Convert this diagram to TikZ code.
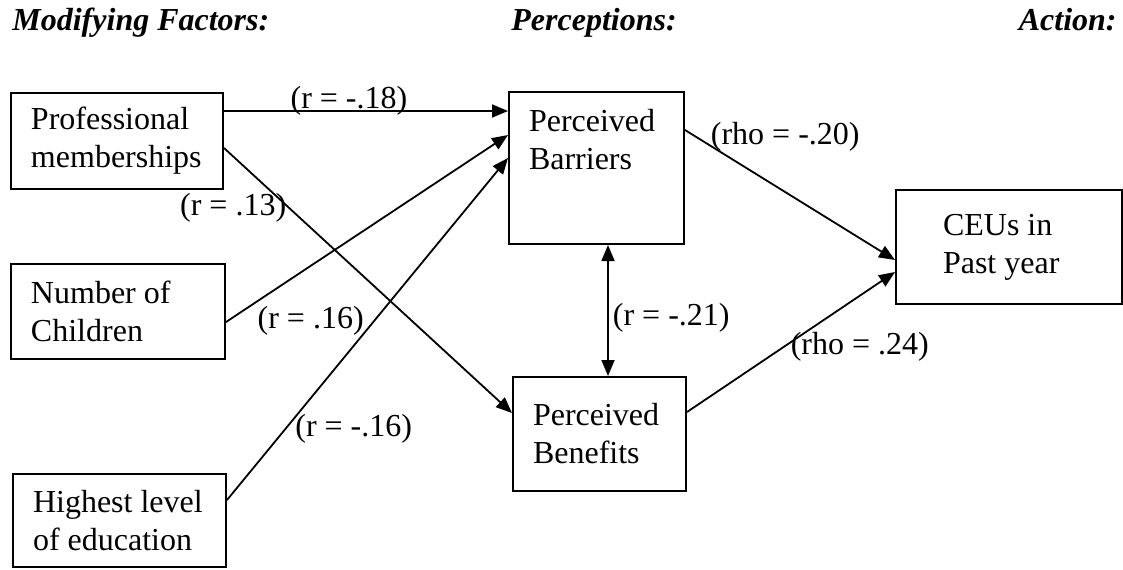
\documentclass[tikz,border=0pt]{standalone}
\usepackage{fontspec}
\setmainfont{Liberation Serif}
\usetikzlibrary{
	positioning,
	arrows.meta
}
\newcommand{\diagfont}{\fontsize{16pt}{19pt}\selectfont}
\tikzset{
	>={Triangle[length=8pt,width=6.5pt]},
	factor/.style={draw, line width=1pt, anchor=north west, align=flush left,
		inner xsep=10pt, inner ysep=4pt, font=\diagfont},
	heading/.style={inner sep=0pt, font=\diagfont\bfseries\itshape},
	link/.style={line width=0.9pt, ->},
	coef/.style={inner sep=1pt, font=\diagfont}
}

\begin{document}
\begin{tikzpicture}[x=0.5pt, y=-0.5pt]
	
	\useasboundingbox (0,0) rectangle (1123,569);
	
	% column headings
	\node[heading, anchor=base west] (modhd) at (12,30) {Modifying Factors:};
	\node[heading, anchor=base west] (perchd) at (511,30) {Perceptions:};
	\node[heading, anchor=base east] (acthd) at (1117,30) {Action:};
	
	% modifying factors
	\node[factor, text width=86pt, minimum height=48pt] (prof) at (10,92) {Professional\\memberships};
	\node[factor, text width=87pt, minimum height=47.5pt] (kids) at (10,263) {Number of\\Children};
	\node[factor, text width=86.5pt, minimum height=46.5pt] (edu) at (12,473) {Highest level\\of education};
	
	% perceptions
	\node[factor, text width=67.5pt, text height=15.5pt, text depth=52.5pt] (barr) at (508,91) {Perceived\\Barriers};
	\node[factor, text width=66.5pt, minimum height=57pt] (bene) at (512,376) {Perceived\\Benefits};
	
	% action
	\node[factor, inner xsep=23.5pt, text width=66pt, minimum height=57pt] (ceu) at (895,189) {CEUs in\\Past year};
	
	\draw[link] ([yshift=-9.5pt]prof.north east) -- ([yshift=-10pt]barr.north west)
		node[coef, pos=0.44, anchor=base, yshift=1.5pt] (r18) {(r = -.18)};
	\draw[link] ([yshift=-28pt]prof.north east) -- ([yshift=-18.5pt]bene.north west)
		node[coef, pos=0.226, anchor=east] (r13) {(r = .13)};
	\draw[link] ([yshift=-29.5pt]kids.north east) -- ([yshift=-22pt]barr.north west)
		node[coef, pos=0.102, anchor=north west] (r16) {(r = .16)};
	\draw[link] ([yshift=-13.5pt]edu.north east) -- ([yshift=-33.5pt]barr.north west)
		node[coef, pos=0.208, anchor=west, xshift=3.5pt] (rneg16) {(r = -.16)};
	\draw[line width=0.9pt, <->] ([xshift=50pt]barr.south west) -- ([xshift=48pt]bene.north west)
		node[coef, pos=0.556, anchor=west, xshift=1pt] (r21) {(r = -.21)};
	\draw[link] ([yshift=-19.5pt]barr.north east) -- ([yshift=-35.5pt]ceu.north west)
		node[coef, pos=0, anchor=west, xshift=11.5pt, yshift=-3.5pt] (rho20) {(rho = -.20)};
	\draw[link] ([yshift=-18pt]bene.north east) -- ([yshift=-41.5pt]ceu.north west)
		node[coef, pos=0.466, anchor=west, xshift=2pt] (rho24) {(rho = .24)};
	
\end{tikzpicture}
\end{document}
